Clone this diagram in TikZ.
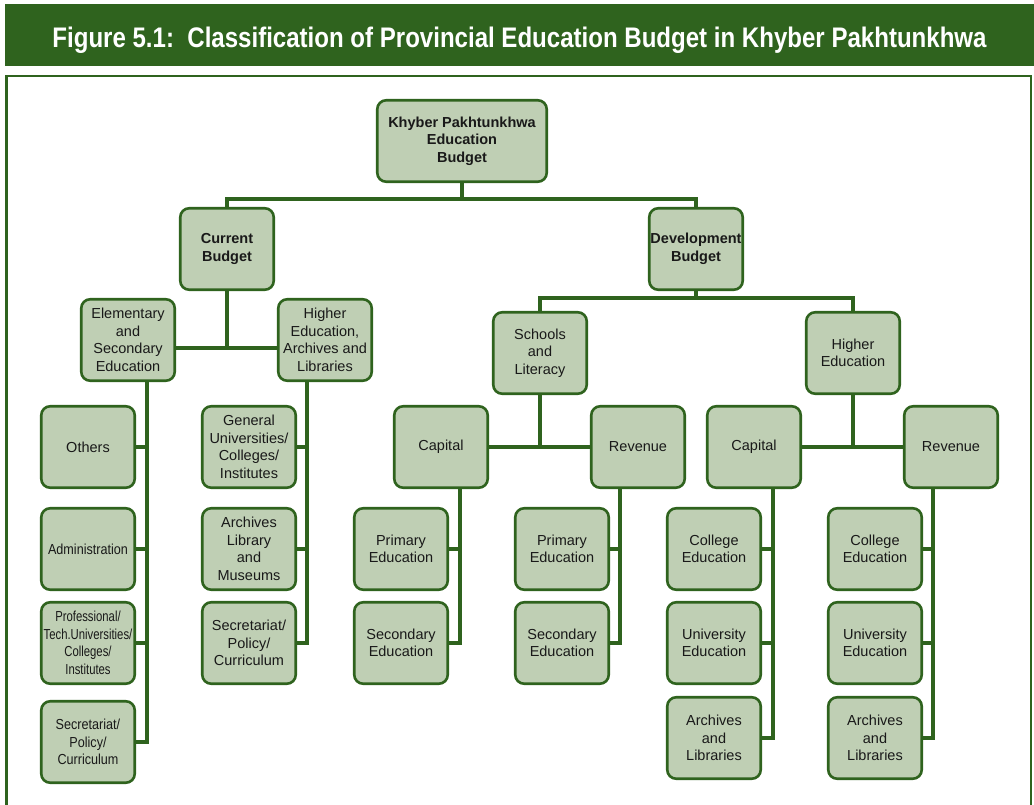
\documentclass[tikz,border=0pt]{standalone}
\usepackage{fontspec}
\setmainfont{Liberation Sans}
\newfontfamily\narrowA[FakeStretch=0.87]{Liberation Sans}
\newfontfamily\narrowB[FakeStretch=0.78]{Liberation Sans}
\usetikzlibrary{calc}
\definecolor{dkgreen}{RGB}{47,99,30}
\definecolor{boxfill}{RGB}{191,207,180}
\definecolor{txt}{RGB}{25,25,25}
\begin{document}
\begin{tikzpicture}[x=1pt,y=-1pt,
  box/.style={draw=dkgreen, line width=2.6pt, fill=boxfill, rounded corners=9pt,
    minimum width=93.5pt, minimum height=81.5pt, align=center, inner sep=1pt,
    text=txt, font=\fontsize{14.5}{17.5}\selectfont},
  boldbox/.style={box, font=\fontsize{14.5}{17.5}\selectfont\bfseries},
  conn/.style={draw=dkgreen, line width=4pt}]
\useasboundingbox (0,0) rectangle (1034,804);
% title bar and frame
\fill[dkgreen] (5,4) rectangle (1034,66);
\node[anchor=base, inner sep=0pt, text=white] (title) at (519.5,47)
  {\resizebox{934pt}{20.5pt}{\bfseries Figure 5.1:\ \ Classification of Provincial Education Budget in Khyber Pakhtunkhwa}};
\draw[dkgreen, line width=2.5pt] (6.5,812) -- (6.5,76) -- (1031,76) -- (1031,812);

\coordinate (jTop) at (462,199);
\coordinate (jCur) at (227,348);
\coordinate (jDev) at (696,298);
\coordinate (jSch) at (540,447);
\coordinate (jHig) at (853,447);
\coordinate (vEl) at (147,0);
\coordinate (vHi) at (307,0);
\coordinate (vC1) at (460,0);
\coordinate (vR1) at (620,0);
\coordinate (vC2) at (773,0);
\coordinate (vR2) at (933,0);

% nodes
\node[boldbox, minimum width=169.5pt] (kp) at (462,141) {Khyber Pakhtunkhwa\\Education\\Budget};
\node[boldbox] (cur) at (227,249) {Current\\Budget};
\node[boldbox] (dev) at (696,249) {Development\\Budget};

\node[box] (elem) at (128,340) {Elementary\\and\\Secondary\\Education};
\node[box] (hied) at (325,340) {Higher\\Education,\\Archives and\\Libraries};

\node[box] (oth) at (88,447) {Others};
\node[box] (adm) at (88,549) {\narrowA Administration};
\node[box] (prof) at (88,643) {\narrowB Professional/\\\narrowB Tech.Universities/\\\narrowB Colleges/\\\narrowB Institutes};
\node[box] (secL) at (88,742) {\narrowA Secretariat/\\\narrowA Policy/\\\narrowA Curriculum};

\node[box] (gen) at (249,447) {General\\Universities/\\Colleges/\\Institutes};
\node[box] (alm) at (249,549) {Archives\\Library\\and\\Museums};
\node[box] (secR) at (249,643) {Secretariat/\\Policy/\\Curriculum};

\node[box] (sch) at (540,353) {Schools\\and\\Literacy};
\node[box] (hig) at (853,353) {Higher\\Education};

\node[box] (cap1) at (441,447) {Capital};
\node[box] (rev1) at (638,447) {Revenue};
\node[box] (cap2) at (754,447) {Capital};
\node[box] (rev2) at (951,447) {Revenue};

\node[box] (pri1) at (401,549) {Primary\\Education};
\node[box] (sec1) at (401,643) {Secondary\\Education};
\node[box] (pri2) at (562,549) {Primary\\Education};
\node[box] (sec2) at (562,643) {Secondary\\Education};

\node[box] (col1) at (714,549) {College\\Education};
\node[box] (uni1) at (714,643) {University\\Education};
\node[box] (arc1) at (714,738) {Archives\\and\\Libraries};
\node[box] (col2) at (875,549) {College\\Education};
\node[box] (uni2) at (875,643) {University\\Education};
\node[box] (arc2) at (875,738) {Archives\\and\\Libraries};

% level 1
\draw[conn] (kp.south) -- (jTop);
\draw[conn] (cur.north) |- (jTop) -| (dev.north);
% current budget
\draw[conn] (cur.south) -- (jCur);
\draw[conn] (elem.east |- jCur) -- (hied.west |- jCur);
% development budget
\draw[conn] (dev.south) -- (jDev);
\draw[conn] (sch.north) |- (jDev) -| (hig.north);
\draw[conn] (sch.south) -- (jSch);
\draw[conn] (cap1.east) -- (rev1.west);
\draw[conn] (hig.south) -- (jHig);
\draw[conn] (cap2.east) -- (rev2.west);
% elementary column
\draw[conn] (elem.south -| vEl) |- (secL.east);
\draw[conn] (oth.east) -- (oth.east -| vEl);
\draw[conn] (adm.east) -- (adm.east -| vEl);
\draw[conn] (prof.east) -- (prof.east -| vEl);
% higher education column
\draw[conn] (hied.south -| vHi) |- (secR.east);
\draw[conn] (gen.east) -- (gen.east -| vHi);
\draw[conn] (alm.east) -- (alm.east -| vHi);
% capital / revenue (schools)
\draw[conn] (cap1.south -| vC1) |- (sec1.east);
\draw[conn] (pri1.east) -- (pri1.east -| vC1);
\draw[conn] (rev1.south -| vR1) |- (sec2.east);
\draw[conn] (pri2.east) -- (pri2.east -| vR1);
% capital / revenue (higher)
\draw[conn] (cap2.south -| vC2) |- (arc1.east);
\draw[conn] (col1.east) -- (col1.east -| vC2);
\draw[conn] (uni1.east) -- (uni1.east -| vC2);
\draw[conn] (rev2.south -| vR2) |- (arc2.east);
\draw[conn] (col2.east) -- (col2.east -| vR2);
\draw[conn] (uni2.east) -- (uni2.east -| vR2);
\end{tikzpicture}
\end{document}
